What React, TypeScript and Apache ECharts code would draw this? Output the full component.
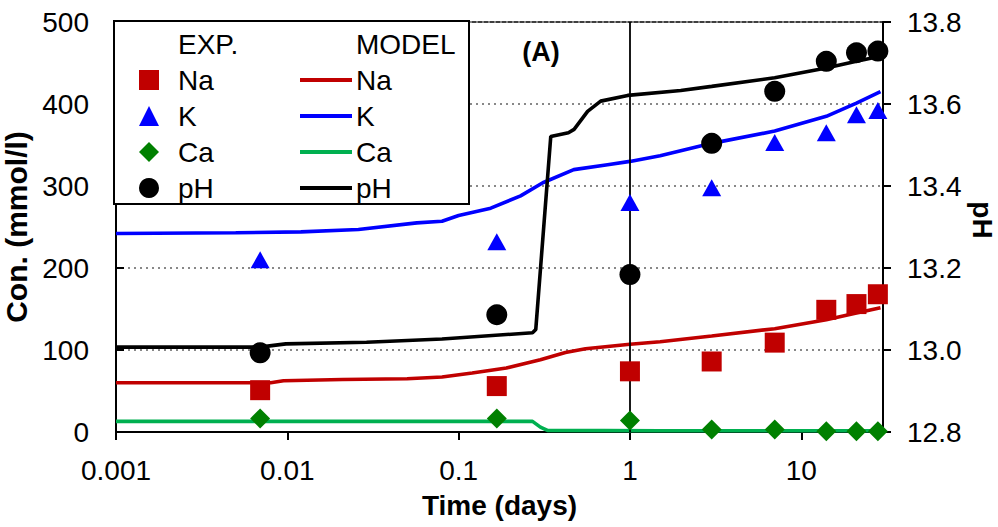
import React, { useEffect, useRef } from "react";
import * as echarts from "echarts";

// Experimental data
const expTimes = [0.00694, 0.167, 1, 3, 7, 14, 21, 28];
const expNa = [51, 56, 74, 86, 109, 149, 156, 168];
const expK = [210, 232, 280, 298, 353, 365, 387, 392];
const expCa = [16.5, 16.5, 14, 3, 3, 1, 1, 1];
const expPH = [12.993, 13.086, 13.184, 13.504, 13.631, 13.704, 13.725, 13.729];

// Model data
const modNaT = [0.001, 0.008, 0.0095, 0.021, 0.05, 0.08, 0.12, 0.19, 0.3, 0.42, 0.55, 1.0, 1.5, 3, 7, 14, 21, 29];
const modNa = [60, 60, 62.5, 64, 65, 67, 72, 78, 88, 97, 101.5, 107, 110, 117, 126, 137, 145, 151.5];
const modKT = [0.001, 0.005, 0.012, 0.026, 0.057, 0.08, 0.1, 0.154, 0.23, 0.31, 0.47, 0.74, 1.0, 1.5, 3, 7, 14, 21, 29];
const modK = [242, 243, 244, 247, 255, 257, 264, 273, 288, 304, 320, 326, 330, 337, 352, 367, 385, 401, 415];
const modCaT = [0.001, 0.17, 0.27, 0.3, 0.33, 1.5, 29];
const modCa = [13, 13, 13, 6, 2, 1.5, 1.5];
const modPHT = [0.001, 0.0069, 0.0098, 0.029, 0.08, 0.27, 0.282, 0.345, 0.4375, 0.472, 0.566, 0.675, 0.97, 1.98, 3, 7, 14, 21, 28];
const modPH = [13.007, 13.007, 13.015, 13.019, 13.027, 13.042, 13.05, 13.521, 13.53, 13.538, 13.582, 13.607, 13.621, 13.633, 13.643, 13.664, 13.688, 13.704, 13.715];

const xTickLabels = ["0.001", "0.01", "0.1", "1", "10"];
const ionNames = ["Na", "K", "Ca", "pH"];

const FONT = "Liberation Sans, Arial, sans-serif";

const zip = (t: number[], v: number[]) => t.map((x, i) => [x, v[i]]);

export default function App() {
  const ref = useRef<HTMLDivElement>(null);
  useEffect(() => {
    if (!ref.current) return;
    const chart = echarts.init(ref.current, null, { renderer: "svg" });
    const colors: Record<string, string> = { Na: "#C00000", K: "#0000FF", Ca: "#008000", pH: "#000000" };
    const lineColors: Record<string, string> = { Na: "#C00000", K: "#0000FF", Ca: "#00B050", pH: "#000000" };
    const symbols: Record<string, string> = { Na: "rect", K: "triangle", Ca: "diamond", pH: "circle" };
    const symSizes: Record<string, number | number[]> = { Na: 20, K: [19, 17], Ca: 20, pH: 21 };
    const expVals: Record<string, number[]> = { Na: expNa, K: expK, Ca: expCa, pH: expPH };
    const modData: Record<string, number[][]> = {
      Na: zip(modNaT, modNa),
      K: zip(modKT, modK),
      Ca: zip(modCaT, modCa),
      pH: zip(modPHT, modPH),
    };

    const lineSeries = ionNames.map((n) => ({
      name: "MODEL " + n,
      type: "line",
      yAxisIndex: n === "pH" ? 1 : 0,
      data: modData[n],
      symbol: "none",
      showSymbol: false,
      smooth: false,
      lineStyle: { color: lineColors[n], width: 3.6 },
      itemStyle: { color: lineColors[n] },
      z: 2,
      ...(n === "Ca"
        ? {
            markLine: {
              silent: true,
              symbol: "none",
              label: { show: false },
              lineStyle: { color: "#000", width: 1.8, type: "solid" },
              data: [{ xAxis: 1 }],
            },
          }
        : {}),
    }));
    const scatterSeries = ionNames.map((n) => ({
      name: "EXP " + n,
      type: "scatter",
      yAxisIndex: n === "pH" ? 1 : 0,
      data: zip(expTimes, expVals[n]),
      symbol: symbols[n],
      symbolSize: symSizes[n],
      itemStyle: { color: colors[n], opacity: 1 },
      z: 5,
    }));

    const legendText = { fontSize: 28, fontFamily: FONT, color: "#000" };

    chart.setOption({
      animation: false,
      grid: {
        left: 116,
        right: 115,
        top: 22,
        bottom: 95,
        containLabel: false,
        outerBoundsMode: "none",
        show: true,
        borderColor: "#000",
        borderWidth: 1.5,
        backgroundColor: "transparent",
      },
      legend: [
        {
          data: ionNames.map((n) => "EXP " + n),
          orient: "vertical",
          left: 139,
          top: 66,
          padding: 0,
          itemWidth: 20,
          itemHeight: 20,
          itemGap: 8,
          selectedMode: false,
          formatter: (s: string) => s.split(" ")[1],
          textStyle: { ...legendText, padding: [0, 0, 0, 14] },
          z: 10,
        },
        {
          data: ionNames.map((n) => ({ name: "MODEL " + n, icon: "rect" })),
          orient: "vertical",
          left: 300,
          top: 66,
          padding: 0,
          itemWidth: 52,
          itemHeight: 4,
          itemGap: 8,
          selectedMode: false,
          formatter: (s: string) => s.split(" ")[1],
          textStyle: { ...legendText, padding: [0, 0, 0, -1] },
          z: 10,
        },
      ],
      graphic: [
        {
          type: "rect",
          z: 3,
          shape: { x: 114, y: 21, width: 355, height: 183 },
          style: { fill: "#fff", stroke: "#000", lineWidth: 2 },
        },
        {
          type: "text",
          z: 11,
          x: 178,
          y: 44,
          style: { text: "EXP.", font: `28px ${FONT}`, fill: "#000", verticalAlign: "middle" },
        },
        {
          type: "text",
          z: 11,
          x: 356,
          y: 44,
          style: { text: "MODEL", font: `28px ${FONT}`, fill: "#000", verticalAlign: "middle" },
        },
        {
          type: "text",
          z: 11,
          x: 541,
          y: 52,
          style: { text: "(A)", font: `bold 27px ${FONT}`, fill: "#000", align: "center", verticalAlign: "middle" },
        },
        {
          type: "text",
          z: 11,
          x: 982,
          y: 220,
          rotation: -Math.PI / 2,
          style: { text: "pH", font: `bold 28px ${FONT}`, fill: "#000", align: "center", verticalAlign: "middle" },
        },
      ],
      xAxis: {
        type: "log",
        logBase: 10,
        min: 0.001,
        max: 30,
        name: "Time (days)",
        nameLocation: "middle",
        nameGap: 59,
        nameTextStyle: { fontSize: 28, fontWeight: "bold", fontFamily: FONT, color: "#000" },
        axisLine: { show: true, lineStyle: { color: "#000", width: 2 } },
        axisTick: { show: true, inside: false, length: 8, lineStyle: { color: "#000", width: 2 } },
        minorTick: { show: false },
        splitLine: { show: false },
        axisLabel: {
          fontSize: 28,
          fontFamily: FONT,
          color: "#000",
          margin: 24,
          showMaxLabel: false,
          formatter: (v: number) => {
            const e = Math.log10(v);
            const r = Math.round(e);
            if (Math.abs(e - r) > 1e-6) return "";
            const idx = r + 3;
            return xTickLabels[idx] ?? "";
          },
        },
      },
      yAxis: [
        {
          type: "value",
          min: 0,
          max: 500,
          interval: 100,
          name: "Con. (mmol/l)",
          nameLocation: "middle",
          nameGap: 80,
          nameTextStyle: { fontSize: 30, fontWeight: "bold", fontFamily: FONT, color: "#000" },
          axisLine: { show: true, lineStyle: { color: "#000", width: 2 } },
          axisTick: { show: true, inside: true, length: 8, lineStyle: { color: "#000", width: 2 } },
          axisLabel: { fontSize: 28, fontFamily: FONT, color: "#000", margin: 27 },
          splitLine: { show: true, lineStyle: { color: "#888", width: 2, type: [2, 4] } },
        },
        {
          type: "value",
          min: 12.8,
          max: 13.8,
          interval: 0.2,
          position: "right",
          axisLine: { show: true, lineStyle: { color: "#000", width: 2 } },
          axisTick: { show: true, inside: false, length: 8, lineStyle: { color: "#000", width: 2 } },
          axisLabel: {
            fontSize: 28,
            fontFamily: FONT,
            color: "#000",
            margin: 24,
            formatter: (v: number) => v.toFixed(1),
          },
          splitLine: { show: false },
        },
      ],
      series: [...lineSeries, ...scatterSeries],
    });
    return () => chart.dispose();
  }, []);
  return <div ref={ref} style={{ width: 998, height: 527, position: "absolute", left: 0, top: 0 }} />;
}
